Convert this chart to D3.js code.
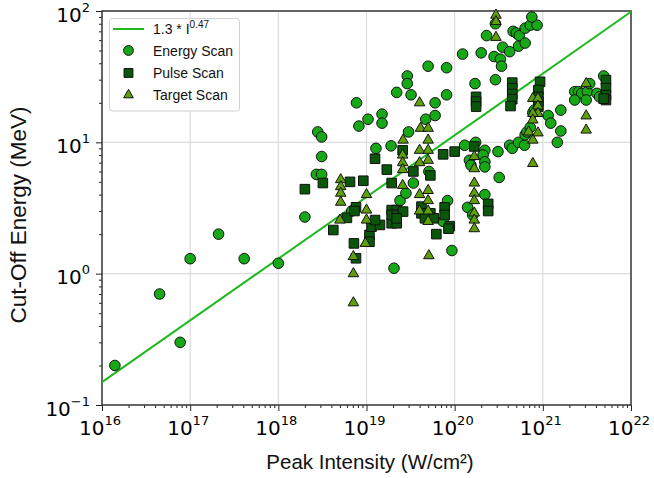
<!DOCTYPE html>
<html>
<head>
<meta charset="utf-8">
<script src="https://cdn.jsdelivr.net/npm/d3@7"></script>
<style>
  body { margin: 0; background: #fff; }
  .tick-label { font-family: "DejaVu Sans", sans-serif; fill: #000; }
  .axis-title { font-family: "Liberation Sans", Arial, sans-serif; fill: #111; }
  .legend text { font-family: "Liberation Sans", Arial, sans-serif; fill: #111; }
</style>
</head>
<body>
<svg id="chart"></svg>
<script>
// [peak intensity (W/cm^2), cut-off energy (MeV)]
const energyScan = [
  [1.4e16, 0.2], [4.5e16, 0.7], [7.7e16, 0.3], [1e17, 1.3], [2.1e17, 2.0], [4.1e17, 1.3], [1e18, 1.2],
  [2.0e18, 2.7], [2.7e18, 5.7], [3.1e18, 5.7], [2.8e18, 12], [3.1e18, 11], [3.1e18, 7.8],
  [7.7e18, 20], [8.2e18, 13.3], [1.04e19, 15], [1.5e19, 16.4], [1.5e19, 14],
  [1.28e19, 9], [1.9e19, 9.4], [2.2e19, 24], [2.9e19, 32], [2.9e19, 28], [3.2e19, 23], [5e19, 38], [3e19, 12],
  [4.7e19, 15], [6e19, 20], [6e19, 16], [8.1e19, 37], [8.1e19, 23],
  [2.4e19, 3.6], [2.8e19, 4.1], [3.4e19, 4.9], [5.1e19, 6.0], [8.3e19, 3.6], [7.4e19, 2.5], [6.8e18, 3.0],
  [2.05e19, 1.1], [9.3e19, 1.5],
  [1.23e20, 47], [2e20, 48], [2.3e20, 65], [2.8e20, 45], [3.3e20, 43], [3.4e20, 38], [2.9e20, 30], [1.7e20, 28], [2.9e20, 80],
  [3.5e20, 53], [4.2e20, 49], [4.6e20, 70], [5.0e20, 68], [5.4e20, 65], [5.3e20, 54], [6.3e20, 57], [6.3e20, 74],
  [7.2e20, 78], [8.6e20, 78], [7.5e20, 90],
  [1.3e20, 9.5], [1.73e20, 10], [2.2e20, 8.7], [2.1e20, 8.0], [2.2e20, 7.1], [2.2e20, 6.5], [1.47e20, 7.3], [1.53e20, 6.7],
  [2.2e20, 4.0], [1.4e20, 3.2], [1.6e20, 2.8], [3.1e20, 8.5], [3.2e20, 5.4],
  [4.2e20, 9.5], [4.5e20, 9], [5.3e20, 10], [6.2e20, 9.5], [6.3e20, 11.4], [6.6e20, 12], [7.2e20, 13], [7.7e20, 16.8], [8e20, 17.6],
  [1.15e21, 16], [1.23e21, 14], [1.6e21, 17.6], [1.6e21, 12.2], [1.46e21, 10],
  [2.3e21, 24.3], [2.55e21, 24.3], [2.76e21, 23.6], [3.2e21, 24.3], [4.1e21, 23.6], [4.4e21, 22.2], [2.3e21, 21], [3.1e21, 21],
  [3.4e21, 28], [4.9e21, 32]
];

const pulseScan = [
  [2e18, 4.4], [3.2e18, 4.9], [6.5e18, 5.0], [9.2e18, 5.1], [1.25e19, 7.5], [1.7e19, 6.2], [2.57e19, 8.7], [3.4e19, 6.0],
  [1.93e19, 4.9], [5.3e19, 5.6],
  [7.6e18, 3.2], [6e18, 2.66], [4.2e18, 2.15], [7.3e18, 3.0], [7.2e18, 1.7], [7.6e18, 1.31],
  [1.08e19, 1.97], [1.08e19, 1.75], [1.14e19, 2.28], [1.42e19, 2.35], [1.25e19, 2.56],
  [1.93e19, 3.05], [2.2e19, 3.05], [1.93e19, 2.42], [2.2e19, 2.42], [1.93e19, 2.8], [2.2e19, 2.8], [2.6e19, 2.97], [2.2e19, 2.64],
  [4.2e19, 3.24], [4.2e19, 2.88], [5.3e19, 2.88], [4.6e19, 2.64], [5.8e19, 2.64], [7.7e19, 3.2], [7.7e19, 2.8], [8.8e19, 2.3],
  [6.2e19, 2.0], [8.5e19, 2.2],
  [7.4e19, 8.1], [1.0e20, 8.5], [1.67e20, 9.3], [2.4e20, 3.4], [2.4e20, 3.0],
  [1.75e20, 22.2], [1.75e20, 20.4], [1.75e20, 18.7],
  [4.5e20, 28.5], [4.5e20, 25.8], [4.5e20, 23.3], [4.5e20, 21.3], [4.3e20, 18.9],
  [9.3e20, 28.9], [8.9e20, 25], [8.9e20, 22.2], [8.9e20, 20.4], [8.9e20, 18.7],
  [5.2e21, 29.8], [5.2e21, 25.8], [5.2e21, 22.9], [5.2e21, 21], [4.9e21, 21.5]
];

const targetScan = [
  [4e19, 20], [4.1e19, 12.8], [5e19, 12.8], [2.6e19, 10.4], [5e19, 10.4], [4e19, 8.7], [5e19, 8.7], [5e19, 7.3],
  [2.57e19, 8.0], [2.57e19, 7.0], [2.57e19, 6.2], [4e19, 7.0], [2.57e19, 4.7],
  [5.1e18, 5.2], [5.1e18, 4.6], [5.1e18, 4.1], [5.1e18, 3.5], [1e19, 4.0], [1e19, 3.05], [1e19, 2.56], [5e18, 2.56],
  [4e19, 4.0], [5e19, 4.3], [5e19, 3.6], [4e19, 3.0], [5e19, 3.0], [5e19, 2.5],
  [1.67e20, 4.9], [1.67e20, 4.1], [1.67e20, 3.6], [1.67e20, 2.9], [1.67e20, 2.56], [1.67e20, 2.2], [1.67e20, 7.8], [1.67e20, 6.3],
  [2.94e20, 93], [2.94e20, 83], [2.94e20, 63],
  [7.7e20, 21.6], [8.8e20, 21.6], [8.8e20, 18.9], [8.8e20, 16.6], [7.7e20, 16.6], [7.7e20, 14.8], [6.9e20, 12], [7.7e20, 10.4],
  [8.8e20, 11.8], [7.7e20, 6.9],
  [3.1e21, 28], [3.1e21, 15.9], [3.1e21, 12.4],
  [9.7e18, 1.7], [7.1e18, 1.35], [7.1e18, 1.0], [7.1e18, 0.6], [5.1e19, 1.37]
];

// fit from legend: E = 1.3 * I^0.47, I in units of 1e18 W/cm^2
const fitCoef = 1.3, fitExp = 0.47, fitUnit = 1e18;
const fitRange = [1e16, 1e22];

const xMajor = [1e16, 1e17, 1e18, 1e19, 1e20, 1e21, 1e22];
const yMajor = [0.1, 1, 10, 100];

const seriesNames = ['Energy Scan', 'Pulse Scan', 'Target Scan'];

const margin = {top: 11, right: 23, bottom: 73, left: 102};
const W = 654, H = 478;
const width = W - margin.left - margin.right;
const height = H - margin.top - margin.bottom;

const svg = d3.select('#chart').attr('width', W).attr('height', H);
const chart = svg.append('g').attr('transform', `translate(${margin.left},${margin.top})`);

const x = d3.scaleLog().domain([1e16, 1e22]).range([0, width]);
const y = d3.scaleLog().domain([0.1, 100]).range([height, 0]);

function minors(majors) {
  let out = [];
  majors.slice(0, -1).forEach(d => { for (let k = 2; k <= 9; k++) out.push(d * k); });
  return out;
}

// gridlines
chart.append('g').selectAll('line.gx').data(xMajor.slice(1, -1)).join('line')
  .attr('x1', d => x(d)).attr('x2', d => x(d)).attr('y1', 0).attr('y2', height)
  .attr('stroke', '#dcdcdc').attr('stroke-width', 1.2);
chart.append('g').selectAll('line.gy').data(yMajor.slice(1, -1)).join('line')
  .attr('y1', d => y(d)).attr('y2', d => y(d)).attr('x1', 0).attr('x2', width)
  .attr('stroke', '#dcdcdc').attr('stroke-width', 1.2);

// axes
function supLabel(sel, d) {
  const e = Math.round(Math.log10(d));
  sel.text(null);
  sel.append('tspan').text('10');
  sel.append('tspan').attr('font-size', 13).attr('dy', -10).text(String(e).replace('-', '\u2212'));
}

const xAxisG = chart.append('g').attr('transform', `translate(0,${height})`);
xAxisG.append('g').call(d3.axisBottom(x).tickValues(minors(xMajor)).tickSize(3).tickFormat(''));
xAxisG.append('g').call(d3.axisBottom(x).tickValues(xMajor).tickSize(6).tickFormat(''));
xAxisG.selectAll('path.domain').remove();
xAxisG.selectAll('line').attr('stroke', '#222');
xAxisG.append('g').selectAll('text').data(xMajor).join('text')
  .attr('class', 'tick-label')
  .attr('x', d => x(d) - 2).attr('y', 30)
  .attr('font-size', 20).attr('text-anchor', 'middle')
  .each(function(d) { supLabel(d3.select(this), d); });

const yAxisG = chart.append('g');
yAxisG.append('g').call(d3.axisLeft(y).tickValues(minors(yMajor)).tickSize(3).tickFormat(''));
yAxisG.append('g').call(d3.axisLeft(y).tickValues(yMajor).tickSize(6).tickFormat(''));
yAxisG.selectAll('path.domain').remove();
yAxisG.selectAll('line').attr('stroke', '#222');
yAxisG.append('g').selectAll('text').data(yMajor).join('text')
  .attr('class', 'tick-label')
  .attr('x', -12).attr('y', d => y(d) + 10.5)
  .attr('font-size', 20).attr('text-anchor', 'end')
  .each(function(d) { supLabel(d3.select(this), d); });

// frame
chart.append('rect').attr('width', width).attr('height', height)
  .attr('fill', 'none').attr('stroke', '#333').attr('stroke-width', 1.5);

// fit line
const fit = fitRange.map(i => [i, fitCoef * Math.pow(i / fitUnit, fitExp)]);
chart.append('path').datum(fit)
  .attr('d', d3.line().x(d => x(d[0])).y(d => y(d[1])))
  .attr('fill', 'none').attr('stroke', '#1fb81f').attr('stroke-width', 2);

// markers
const styles = [
  {data: energyScan, type: d3.symbolCircle, size: 88, fill: '#17a817'},
  {data: pulseScan, type: d3.symbolSquare, size: 92, fill: '#0a560a'},
  {data: targetScan, type: d3.symbolTriangle, size: 48, fill: '#5f9f0c'}
];
styles.forEach(s => {
  chart.append('g').selectAll('path').data(s.data).join('path')
    .attr('transform', d => `translate(${x(d[0])},${y(d[1])})`)
    .attr('d', d3.symbol().type(s.type).size(s.size))
    .attr('fill', s.fill).attr('stroke', '#111').attr('stroke-width', 1);
});

// axis titles
svg.append('text').attr('class', 'axis-title')
  .attr('x', 370).attr('y', 469).attr('text-anchor', 'middle')
  .attr('font-size', 20.5).text('Peak Intensity (W/cm\u00b2)');
svg.append('text').attr('class', 'axis-title')
  .attr('transform', 'translate(26,215) rotate(-90)')
  .attr('text-anchor', 'middle').attr('font-size', 22.5)
  .text('Cut-Off Energy (MeV)');

// legend
const legend = svg.append('g').attr('class', 'legend');
legend.append('rect').attr('x', 109.5).attr('y', 18.5).attr('width', 130).attr('height', 92.5)
  .attr('rx', 3).attr('fill', '#fff').attr('stroke', '#d0d0d0');
legend.append('line').attr('x1', 113).attr('x2', 144).attr('y1', 29).attr('y2', 29)
  .attr('stroke', '#1fb81f').attr('stroke-width', 2);
const fitLabel = legend.append('text').attr('x', 153).attr('y', 34).attr('font-size', 14);
fitLabel.append('tspan').text(`${fitCoef} * I`);
fitLabel.append('tspan').attr('font-size', 10).attr('dy', -6).text(String(fitExp).replace(/^0/, '0'));
const rowsY = [50.5, 73, 95];
styles.forEach((s, i) => {
  legend.append('path')
    .attr('transform', `translate(128.5,${rowsY[i]})`)
    .attr('d', d3.symbol().type(s.type).size(s.size * 0.85))
    .attr('fill', s.fill).attr('stroke', '#111').attr('stroke-width', 1);
  legend.append('text').attr('x', 153).attr('y', rowsY[i] + 5).attr('font-size', 14).text(seriesNames[i]);
});
</script>
</body>
</html>
